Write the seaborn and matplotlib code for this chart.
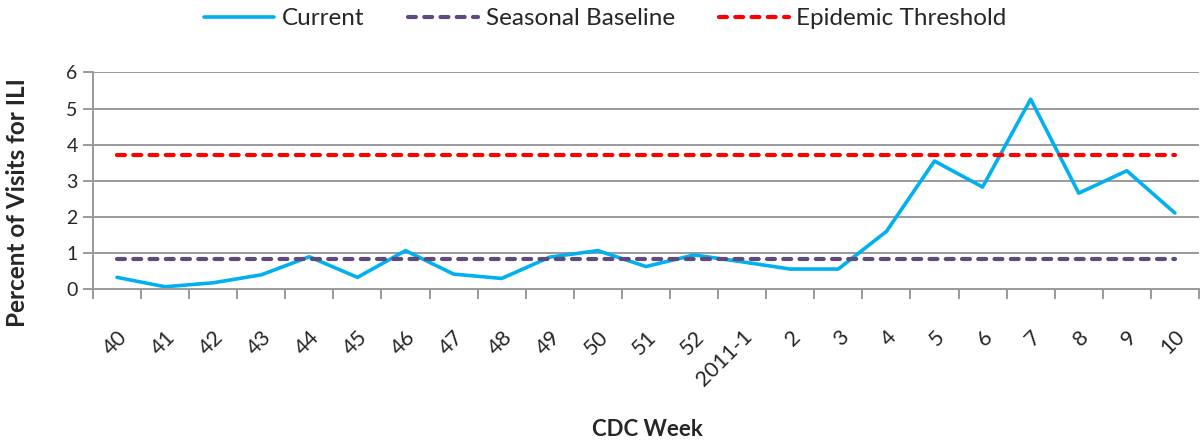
import matplotlib
matplotlib.use("Agg")
import matplotlib.pyplot as plt
import matplotlib.transforms as mtransforms
import numpy as np
import pandas as pd
import seaborn as sns

# --- Data ---
weeks = ["40", "41", "42", "43", "44", "45", "46", "47", "48", "49", "50", "51", "52",
         "2011-1", "2", "3", "4", "5", "6", "7", "8", "9", "10"]
current = [0.33, 0.07, 0.18, 0.40, 0.90, 0.33, 1.07, 0.42, 0.30, 0.89, 1.07, 0.63, 0.95,
           0.76, 0.56, 0.56, 1.60, 3.55, 2.83, 5.26, 2.66, 3.28, 2.11]
seasonal_baseline = [0.84] * len(weeks)
epidemic_threshold = [3.71] * len(weeks)

df = pd.DataFrame({"CDC Week": weeks, "Current": current,
                   "Seasonal Baseline": seasonal_baseline,
                   "Epidemic Threshold": epidemic_threshold})

sns.set_style("white")
plt.rcParams["font.family"] = ["Lato", "DejaVu Sans"]

fig = plt.figure(figsize=(12.01, 4.42), dpi=100)
ax = fig.add_axes([0.0774, 0.3455, 0.9209, 0.4905])

grid_col = "#9a9a9a"
for y in range(1, 7):
    ax.axhline(y, color=grid_col, lw=1.4, zorder=0)

dash = (0, (1.9, 2.0))
sns.lineplot(data=df, x="CDC Week", y="Current", ax=ax, color="#00B0F0", lw=2.6,
             label="Current", sort=False)
sns.lineplot(data=df, x="CDC Week", y="Seasonal Baseline", ax=ax, color="#604A7B", lw=3.0,
             label="Seasonal Baseline", sort=False, linestyle=dash, dash_capstyle="round")
sns.lineplot(data=df, x="CDC Week", y="Epidemic Threshold", ax=ax, color="#FF0000", lw=3.0,
             label="Epidemic Threshold", sort=False, linestyle=dash, dash_capstyle="round")

ax.set_xlim(-0.5, len(weeks) - 0.5)
ax.set_ylim(0, 6)
ax.set_yticks(range(0, 7))
ax.set_xticks(range(len(weeks)))
ax.set_xticklabels(weeks, rotation=45, ha="right", va="center", rotation_mode="anchor")
ax.set_xticks(np.arange(-0.5, len(weeks), 1), minor=True)
ax.tick_params(axis="x", which="major", length=0, pad=32, labelsize=15.5)
ax.tick_params(axis="x", which="minor", length=7, width=1.4, color=grid_col, direction="out")
ax.tick_params(axis="y", length=7, width=1.4, color=grid_col, direction="out", labelsize=14, pad=4)
ax.xaxis.set_tick_params(bottom=True, which="both")
ax.yaxis.set_tick_params(left=True)

offset = mtransforms.ScaledTranslation(0.07, 0, fig.dpi_scale_trans)
for lbl in ax.get_xticklabels():
    lbl.set_transform(lbl.get_transform() + offset)

for side in ["top", "right"]:
    ax.spines[side].set_visible(False)
for side in ["left", "bottom"]:
    ax.spines[side].set_color(grid_col)
    ax.spines[side].set_linewidth(1.4)

ax.set_xlabel("CDC Week", fontsize=16, fontweight="bold")
ax.xaxis.set_label_coords(0.501, -0.60)
ax.set_ylabel("Percent of Visits for ILI", fontsize=17.5, fontweight="bold")
ax.yaxis.set_label_coords(-0.058, 0.40)

ax.get_legend().remove()
handles, labels = ax.get_legend_handles_labels()
fig.legend(handles, labels, loc="center", bbox_to_anchor=(0.504, 0.958), ncol=3,
           frameon=False, fontsize=17.5, handlelength=2.9, handletextpad=0.3,
           columnspacing=1.8)

fig.savefig("out.png", dpi=100)
